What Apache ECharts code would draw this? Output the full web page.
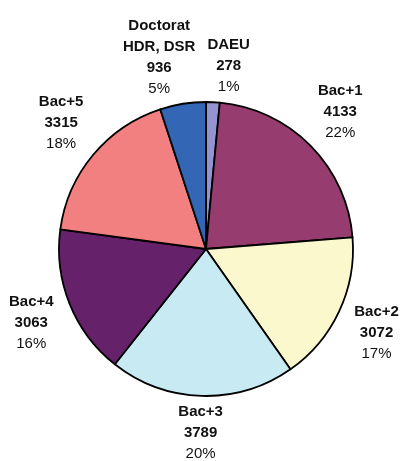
<!DOCTYPE html>
<html>
<head>
<meta charset="utf-8">
<script src="https://cdn.jsdelivr.net/npm/echarts@6/dist/echarts.min.js"></script>
<style>
html,body{margin:0;padding:0;background:#fff;}
#chart{width:404px;height:461px;}
</style>
</head>
<body>
<div id="chart"></div>
<script>
const categories = ['DAEU', 'Bac+1', 'Bac+2', 'Bac+3', 'Bac+4', 'Bac+5', 'Doctorat\nHDR, DSR'];
const values = [278, 4133, 3072, 3789, 3063, 3315, 936];
const colors = ['#9494D0', '#963C6E', '#FAF8CC', '#C8EAF2', '#66216B', '#F28080', '#3366B4'];

const CX = 206, CY = 249, R = 147, GAP = 8, SEP = 12;
const FONT = 'Liberation Sans, Arial, sans-serif';
const total = values.reduce((a, b) => a + b, 0);
const midAngles = [];
let acc = 0;
values.forEach(v => {
  const a = v / total * 2 * Math.PI;
  midAngles.push(acc + a / 2);
  acc += a;
});

const data = categories.map((c, i) => ({
  name: c, value: values[i], itemStyle: { color: colors[i] }
}));

const sizes = [];
let positions = null;

function clamp(v, lo, hi) { return Math.max(lo, Math.min(hi, v)); }

function computePositions() {
  const pos = sizes.map((s, i) => {
    const t = midAngles[i];
    const dx = Math.sin(t), dy = -Math.cos(t);
    const w = s.w / 2, h = s.h / 2;
    return {
      x: CX + dx * (R + GAP) + w * clamp(1.5 * dx, -1.5, 1.5),
      y: CY + dy * (R + GAP) + h * clamp(1.5 * dy, -1, 1),
      w: w, h: h
    };
  });
  // resolve horizontal overlaps between neighbouring labels (wrap-around order)
  const n = pos.length;
  for (let k = 0; k < n; k++) {
    const a = pos[(k + n - 1) % n], b = pos[k];
    const vOverlap = Math.abs(a.y - b.y) < (a.h + b.h);
    if (!vOverlap) continue;
    const left = a.x < b.x ? a : b, right = a.x < b.x ? b : a;
    const over = (left.x + left.w + SEP) - (right.x - right.w);
    if (over > 0) {
      left.x -= over / 2;
      right.x += over / 2;
    }
  }
  return pos;
}

const chart = echarts.init(document.getElementById('chart'), null, { renderer: 'canvas' });

function build() {
  return {
    animation: false,
    textStyle: { fontFamily: FONT },
    series: [{
      type: 'pie',
      center: [CX, CY],
      radius: R,
      startAngle: 90,
      clockwise: true,
      avoidLabelOverlap: false,
      data: data,
      itemStyle: { borderColor: '#000', borderWidth: 1.8 },
      label: {
        show: true,
        position: 'outside',
        overflow: 'none',
        align: 'center',
        formatter: p => {
          const lines = p.name.split('\n').map(s => '{b|' + s + '}');
          lines.push('{b|' + p.value + '}');
          lines.push('{p|' + Math.round(p.value / total * 100) + '%}');
          return lines.join('\n');
        },
        rich: {
          b: { fontWeight: 'bold', fontSize: 15, lineHeight: 21, color: '#111', align: 'center', fontFamily: FONT },
          p: { fontSize: 15, lineHeight: 21, color: '#111', align: 'center', fontFamily: FONT }
        }
      },
      labelLine: { show: false },
      labelLayout: params => {
        const i = params.dataIndex;
        if (!positions) {
          sizes[i] = { w: params.labelRect.width, h: params.labelRect.height };
          return {};
        }
        return { x: positions[i].x, y: positions[i].y, align: 'center', verticalAlign: 'middle' };
      },
      emphasis: { disabled: true }
    }]
  };
}

chart.setOption(build());
positions = computePositions();
chart.setOption(build(), true);
</script>
</body>
</html>
